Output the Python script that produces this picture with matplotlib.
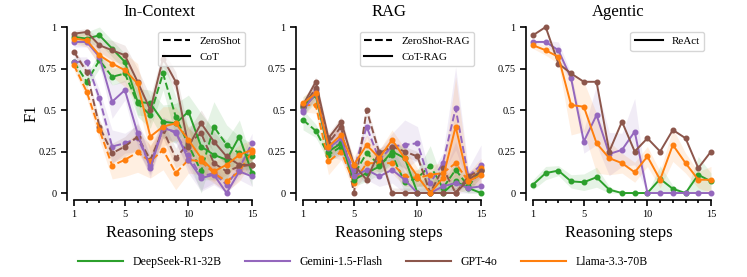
import numpy as np
import matplotlib
matplotlib.use("Agg")
import matplotlib.pyplot as plt
from matplotlib.lines import Line2D
from matplotlib.ticker import FixedLocator, MultipleLocator

plt.rcParams['font.family'] = ['Liberation Serif', 'DejaVu Serif']

steps = np.arange(1, 16)
models = ["DeepSeek-R1-32B", "Gemini-1.5-Flash", "GPT-4o", "Llama-3.3-70B"]
colors = ["#2ca02c", "#9467bd", "#8c564b", "#ff7f0e"]

# In-Context
ic_zs_deepseek = [0.79, 0.67, 0.80, 0.70, 0.72, 0.54, 0.47, 0.72, 0.46, 0.29, 0.13, 0.40, 0.29, 0.24, 0.22]
ic_zs_gemini = [0.79, 0.79, 0.57, 0.28, 0.30, 0.33, 0.17, 0.40, 0.36, 0.23, 0.10, 0.12, 0.05, 0.15, 0.30]
ic_zs_gpt = [0.85, 0.73, 0.40, 0.24, 0.28, 0.34, 0.20, 0.38, 0.21, 0.30, 0.36, 0.18, 0.13, 0.16, 0.17]
ic_zs_llama = [0.77, 0.61, 0.38, 0.165, 0.20, 0.245, 0.19, 0.26, 0.12, 0.20, 0.19, 0.12, 0.07, 0.13, 0.25]
ic_cot_deepseek = [0.94, 0.93, 0.95, 0.87, 0.79, 0.55, 0.54, 0.43, 0.42, 0.49, 0.28, 0.23, 0.20, 0.34, 0.12]
ic_cot_gemini = [0.91, 0.91, 0.82, 0.55, 0.62, 0.36, 0.15, 0.39, 0.37, 0.20, 0.09, 0.11, 0.00, 0.13, 0.10]
ic_cot_gpt = [0.96, 0.97, 0.89, 0.86, 0.83, 0.67, 0.50, 0.81, 0.67, 0.28, 0.42, 0.31, 0.22, 0.17, 0.17]
ic_cot_llama = [0.93, 0.92, 0.83, 0.78, 0.74, 0.66, 0.34, 0.40, 0.42, 0.32, 0.21, 0.13, 0.17, 0.23, 0.26]
ic_sd_deepseek = [0.03, 0.04, 0.05, 0.05, 0.05, 0.08, 0.08, 0.10, 0.12, 0.10, 0.20, 0.15, 0.12, 0.10, 0.08]
ic_sd_gemini = [0.03, 0.03, 0.05, 0.10, 0.06, 0.08, 0.06, 0.06, 0.06, 0.08, 0.08, 0.06, 0.06, 0.05, 0.06]
ic_sd_gpt = [0.02, 0.02, 0.04, 0.06, 0.06, 0.08, 0.08, 0.05, 0.06, 0.10, 0.08, 0.06, 0.06, 0.05, 0.05]
ic_sd_llama = [0.03, 0.04, 0.06, 0.08, 0.10, 0.12, 0.10, 0.12, 0.10, 0.08, 0.08, 0.06, 0.06, 0.06, 0.06]

# RAG
rag_zs_deepseek = [0.44, 0.375, 0.23, 0.28, 0.11, 0.24, 0.17, 0.23, 0.065, 0.09, 0.165, 0.03, 0.14, 0.04, 0.14]
rag_zs_gemini = [0.49, 0.62, 0.27, 0.30, 0.14, 0.40, 0.20, 0.28, 0.29, 0.30, 0.06, 0.18, 0.51, 0.10, 0.17]
rag_zs_gpt = [0.52, 0.63, 0.30, 0.40, 0.00, 0.50, 0.24, 0.28, 0.25, 0.22, 0.00, 0.15, 0.00, 0.10, 0.14]
rag_zs_llama = [0.53, 0.53, 0.19, 0.25, 0.06, 0.18, 0.18, 0.18, 0.10, 0.09, 0.11, 0.12, 0.18, 0.07, 0.15]
rag_cot_deepseek = [0.52, 0.59, 0.25, 0.30, 0.08, 0.12, 0.16, 0.25, 0.21, 0.00, 0.00, 0.00, 0.07, 0.03, 0.00]
rag_cot_gemini = [0.50, 0.60, 0.27, 0.33, 0.10, 0.14, 0.10, 0.14, 0.08, 0.00, 0.00, 0.04, 0.06, 0.03, 0.04]
rag_cot_gpt = [0.53, 0.67, 0.33, 0.43, 0.17, 0.08, 0.25, 0.00, 0.00, 0.00, 0.00, 0.00, 0.00, 0.08, 0.13]
rag_cot_llama = [0.54, 0.60, 0.28, 0.35, 0.17, 0.29, 0.21, 0.32, 0.21, 0.10, 0.00, 0.09, 0.40, 0.07, 0.11]
rag_sd_deepseek = [0.06, 0.04, 0.04, 0.05, 0.04, 0.05, 0.05, 0.06, 0.06, 0.05, 0.12, 0.04, 0.05, 0.04, 0.04]
rag_sd_gemini = [0.03, 0.04, 0.05, 0.10, 0.05, 0.06, 0.06, 0.08, 0.15, 0.10, 0.05, 0.06, 0.25, 0.05, 0.12]
rag_sd_gpt = [0.02, 0.03, 0.03, 0.03, 0.03, 0.03, 0.03, 0.03, 0.03, 0.03, 0.03, 0.03, 0.03, 0.03, 0.03]
rag_sd_llama = [0.04, 0.05, 0.08, 0.05, 0.05, 0.06, 0.05, 0.06, 0.06, 0.05, 0.06, 0.06, 0.30, 0.05, 0.06]

# Agentic
ag_react_deepseek = [0.05, 0.12, 0.135, 0.07, 0.065, 0.095, 0.02, 0.0, 0.0, 0.0, 0.085, 0.025, 0.0, 0.11, 0.07]
ag_react_gemini = [0.91, 0.91, 0.86, 0.69, 0.31, 0.47, 0.235, 0.26, 0.37, 0.0, 0.0, 0.0, 0.0, 0.0, 0.0]
ag_react_gpt = [0.95, 1.0, 0.78, 0.72, 0.67, 0.67, 0.25, 0.43, 0.25, 0.33, 0.25, 0.38, 0.33, 0.15, 0.25]
ag_react_llama = [0.89, 0.86, 0.82, 0.53, 0.52, 0.30, 0.21, 0.18, 0.125, 0.22, 0.08, 0.29, 0.18, 0.08, 0.08]
ag_sd_deepseek = [0.03, 0.04, 0.03, 0.04, 0.05, 0.06, 0.02, 0.0, 0.0, 0.0, 0.08, 0.02, 0.0, 0.11, 0.05]
ag_sd_gemini = [0.01, 0.01, 0.05, 0.03, 0.07, 0.18, 0.13, 0.10, 0.20, 0.0, 0.0, 0.0, 0.0, 0.0, 0.0]
ag_sd_gpt = [0.0] * 15
ag_sd_llama = [0.02, 0.03, 0.04, 0.18, 0.15, 0.18, 0.10, 0.06, 0.06, 0.06, 0.05, 0.10, 0.06, 0.05, 0.08]

panels = [
    ("In-Context", [("ZeroShot", "--", [ic_zs_deepseek, ic_zs_gemini, ic_zs_gpt, ic_zs_llama]),
                    ("CoT", "-", [ic_cot_deepseek, ic_cot_gemini, ic_cot_gpt, ic_cot_llama])],
     [ic_sd_deepseek, ic_sd_gemini, ic_sd_gpt, ic_sd_llama]),
    ("RAG", [("ZeroShot-RAG", "--", [rag_zs_deepseek, rag_zs_gemini, rag_zs_gpt, rag_zs_llama]),
             ("CoT-RAG", "-", [rag_cot_deepseek, rag_cot_gemini, rag_cot_gpt, rag_cot_llama])],
     [rag_sd_deepseek, rag_sd_gemini, rag_sd_gpt, rag_sd_llama]),
    ("Agentic", [("ReAct", "-", [ag_react_deepseek, ag_react_gemini, ag_react_gpt, ag_react_llama])],
     [ag_sd_deepseek, ag_sd_gemini, ag_sd_gpt, ag_sd_llama]),
]

fig = plt.figure(figsize=(7.47, 2.77), dpi=100)
lefts = [0.0897, 0.3963, 0.7041]

for i, (title, methods, sds) in enumerate(panels):
    ax = fig.add_axes([lefts[i], 0.278, 0.2477, 0.6245])
    for name, ls, series in methods:
        for vals, sd, c in zip(series, sds, colors):
            v = np.array(vals)
            s = np.array(sd)
            ax.fill_between(steps, np.clip(v - s, 0, 1), np.clip(v + s, 0, 1),
                            color=c, alpha=0.12, lw=0)
            ax.plot(steps, v, ls=ls, color=c, lw=1.4, marker="o", ms=3.3,
                    clip_on=False, zorder=3)
    ax.set_xlim(0.45, 15)
    ax.set_ylim(-0.042, 1.0)
    ax.spines['top'].set_visible(False)
    ax.spines['right'].set_visible(False)
    ax.spines['bottom'].set_bounds(1, 15)
    ax.spines['left'].set_linewidth(1.2)
    ax.spines['bottom'].set_linewidth(1.2)
    ax.xaxis.set_major_locator(FixedLocator([1, 5, 10, 15]))
    ax.xaxis.set_minor_locator(MultipleLocator(1))
    ax.set_yticks([0, 0.25, 0.5, 0.75, 1])
    ax.set_yticklabels(["0", "0.25", "0.5", "0.75", "1"])
    ax.tick_params(axis='both', which='major', labelsize=7.5, length=4, width=1.2)
    ax.tick_params(axis='x', which='minor', length=2.5, width=1.2)
    ax.set_title(title, fontsize=12, pad=8)
    ax.set_xlabel("Reasoning steps", fontsize=12)
    if i == 0:
        ax.set_ylabel("F1", fontsize=12, labelpad=-1)
    handles = [Line2D([0], [0], color="black", ls=ls, lw=1.5) for _, ls, _ in methods]
    ax.legend(handles, [m[0] for m in methods], loc="upper right", fontsize=8,
              handlelength=2.5, bbox_to_anchor=(0.98, 0.99), borderaxespad=0.3)

model_handles = [Line2D([0], [0], color=c, lw=1.5) for c in colors]
fig.legend(model_handles, models, loc="center", bbox_to_anchor=(0.486, 0.055), ncol=4,
           frameon=False, fontsize=8.5, handlelength=3.8, columnspacing=2.0)

fig.savefig("out.png", dpi=100)
